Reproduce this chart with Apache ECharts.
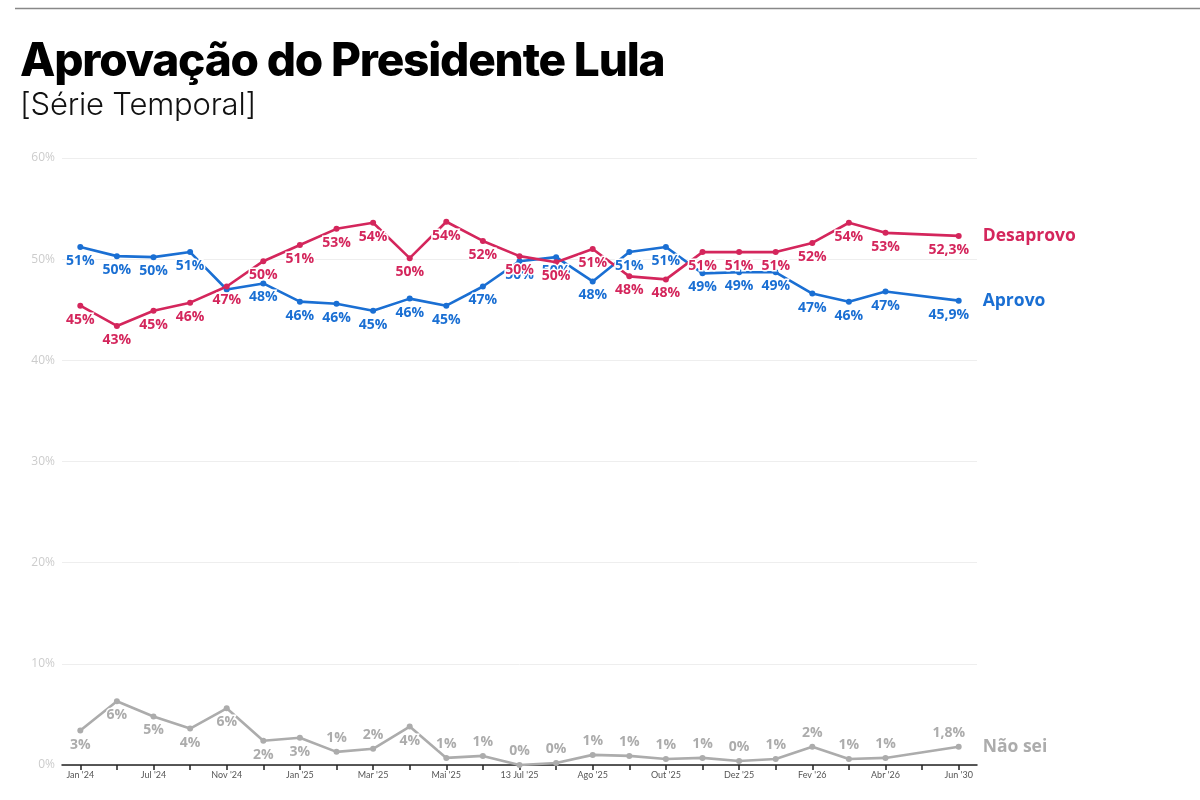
<!DOCTYPE html>
<html>
<head>
<meta charset="utf-8">
<script src="https://cdn.jsdelivr.net/npm/echarts@6/dist/echarts.min.js"></script>
<style>
  html, body { margin: 0; padding: 0; background: #fff; }
  #wrap { position: relative; width: 1200px; height: 800px; overflow: hidden; }
  #chart { position: absolute; left: 0; top: 0; width: 1200px; height: 800px; }
  #title { position: absolute; left: 20px; top: 32px; font-family: Inter, sans-serif; font-weight: 800;
    font-size: 46px; letter-spacing: -1.2px; color: #000; line-height: 54px; }
  #sub { position: absolute; left: 20px; top: 85px; font-family: Inter, sans-serif; font-weight: 300;
    font-size: 31px; color: #111; line-height: 38px; letter-spacing: -0.2px; }
</style>
</head>
<body>
<div id="wrap">
  <div id="chart"></div>
  <div id="title">Aprovação do Presidente Lula</div>
  <div id="sub">[Série Temporal]</div>
</div>
<script>
// eixo x (25 pesquisas; rótulo em uma a cada duas)
const categories = [
  "Jan '24", "Mar '24", "Jul '24", "Set '24", "Nov '24", "Dez '24", "Jan '25", "Fev '25",
  "Mar '25", "Abr '25", "Mai '25", "Jun '25", "13 Jul '25", "Jul '25", "Ago '25", "Set '25",
  "Out '25", "Nov '25", "Dez '25", "Jan '26", "Fev '26", "Mar '26", "Abr '26", "Mai '26", "Jun '30"
]
// séries
const aprovo = [51.2, 50.3, 50.2, 50.7, 47.0, 47.6, 45.8, 45.6, 44.9, 46.1, 45.4, 47.3,
  49.8, 50.2, 47.8, 50.7, 51.2, 48.6, 48.7, 48.7, 46.6, 45.8, 46.8, null, 45.9]
const desaprovo = [45.4, 43.4, 44.9, 45.7, 47.3, 49.8, 51.4, 53.0, 53.6, 50.1, 53.7, 51.8,
  50.3, 49.7, 51.0, 48.3, 48.0, 50.7, 50.7, 50.7, 51.6, 53.6, 52.6, null, 52.3]
const naoSei = [3.4, 6.3, 4.8, 3.6, 5.6, 2.4, 2.7, 1.3, 1.6, 3.8, 0.7, 0.9,
  0.0, 0.2, 1.0, 0.9, 0.6, 0.7, 0.4, 0.6, 1.8, 0.6, 0.7, null, 1.8]
// rótulos do "Não sei" que ficam abaixo do ponto
const naoSeiBelow = [0, 1, 2, 3, 4, 5, 6, 9]
// rótulos escondidos (sobrepostos no original)
const aprovoHidden = [4]
const yTicks = [0, 10, 20, 30, 40, 50, 60]

const RED = '#d4265c'
const BLUE = '#1a6fd3'
const GRAY = '#acacac'
const LAST = categories.length - 1

const fmt = (v, i) => i === LAST ? v.toFixed(1).replace('.', ',') + '%' : Math.round(v) + '%'

const makeSeries = (name, data, color, labelPos, hidden) => ({
  name: name,
  type: 'line',
  data: data.map((v, i) => ({
    value: v,
    label: {
      show: !(hidden || []).includes(i),
      position: typeof labelPos === 'function' ? labelPos(i) : labelPos,
      offset: i === LAST ? [-10, 0] : [0, 0]
    }
  })),
  connectNulls: true,
  symbol: 'circle',
  symbolSize: 6,
  lineStyle: { color: color, width: 2.6 },
  itemStyle: { color: color },
  label: {
    show: true,
    distance: 4,
    color: color,
    fontFamily: 'Open Sans',
    fontWeight: 'bold',
    fontSize: 14,
    textBorderColor: '#ffffff',
    textBorderWidth: 3,
    formatter: p => p.value == null ? '' : fmt(p.value, p.dataIndex)
  },
  endLabel: {
    show: true,
    formatter: name,
    color: color,
    fontFamily: 'Open Sans',
    fontWeight: 'bold',
    fontSize: 17.5,
    distance: 24
  },
  emphasis: { disabled: true },
  animation: false
})

const chart = echarts.init(document.getElementById('chart'), null, { renderer: 'canvas' })
chart.setOption({
  animation: false,
  backgroundColor: '#ffffff',
  graphic: [{
    type: 'line',
    shape: { x1: 15, y1: 8.5, x2: 1200, y2: 8.5 },
    style: { stroke: '#888', lineWidth: 1.5 }
  }],
  grid: { left: 62, right: 223, top: 158, bottom: 35, containLabel: false },
  xAxis: {
    type: 'category',
    data: categories,
    boundaryGap: true,
    axisLine: { lineStyle: { color: '#222', width: 1.5 } },
    axisTick: { show: true, alignWithLabel: true, interval: 0, length: 5, lineStyle: { color: '#222', width: 1.5 } },
    axisLabel: { interval: 1, color: '#555', fontSize: 9, fontFamily: 'Lato', margin: 6 }
  },
  yAxis: {
    type: 'value',
    min: yTicks[0],
    max: yTicks[yTicks.length - 1],
    interval: 10,
    axisLine: { show: false },
    axisTick: { show: false },
    splitLine: { lineStyle: { color: '#eeeeee', width: 1 } },
    axisLabel: { color: '#cccccc', fontSize: 12, fontFamily: 'Open Sans', margin: 7, formatter: '{value}%' }
  },
  series: [
    makeSeries('Não sei', naoSei, GRAY, i => naoSeiBelow.includes(i) ? 'bottom' : 'top'),
    makeSeries('Aprovo', aprovo, BLUE, 'bottom', aprovoHidden),
    makeSeries('Desaprovo', desaprovo, RED, 'bottom')
  ]
})
</script>
</body>
</html>
